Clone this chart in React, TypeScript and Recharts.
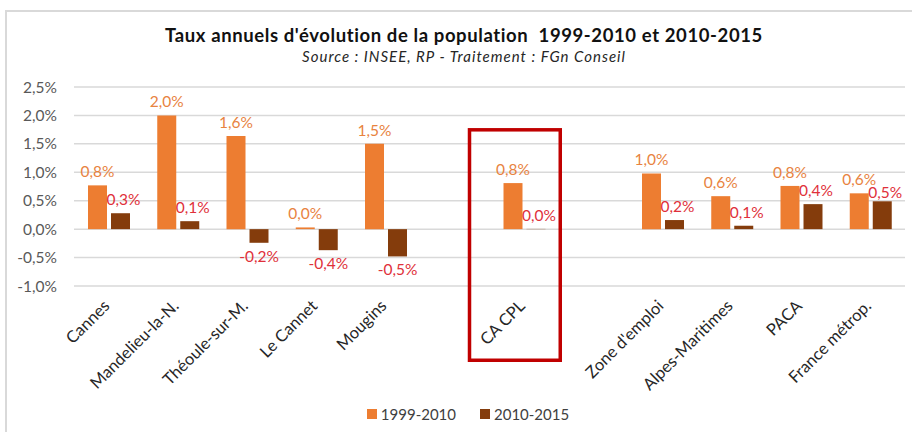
import React from 'react';
import { BarChart, Bar, XAxis, YAxis, CartesianGrid, LabelList, ReferenceArea } from 'recharts';

const categories = [
  'Cannes', 'Mandelieu-la-N.', 'Théoule-sur-M.', 'Le Cannet', 'Mougins', ' ',
  'CA CPL', '  ', "Zone d'emploi", 'Alpes-Maritimes', 'PACA', 'France métrop.',
];
const rate1999_2010 = [0.77, 2.0, 1.64, 0.03, 1.5, null, 0.81, null, 0.98, 0.58, 0.76, 0.63];
const rate2010_2015 = [0.28, 0.14, -0.24, -0.37, -0.48, null, 0.004, null, 0.16, 0.06, 0.44, 0.49];
const yTicks = [-1, -0.5, 0, 0.5, 1, 1.5, 2, 2.5];
const seriesNames = ['1999-2010', '2010-2015'];
const highlighted = 'CA CPL';
const titleText = "Taux annuels d'évolution de la population  1999-2010 et 2010-2015";
const subtitleText = 'Source : INSEE, RP - Traitement : FGn Conseil';

const data = categories.map((name, i) => ({
  name,
  a: rate1999_2010[i],
  b: rate2010_2015[i],
}));

const FONT = 'Lato, "Open Sans", sans-serif';
const ORANGE = '#ED7D31';
const BROWN = '#843C0C';
const RED_LABEL = '#E0303A';

const fmt = (v: any) =>
  v === null || v === undefined ? '' : (Number(v).toFixed(1).replace('.', ',') + '%');

const XTick = (props: any) => {
  const { x, y, payload } = props;
  return (
    <g transform={`translate(${x + 2},${y + 13})`}>
      <text
        x={0}
        y={0}
        textAnchor="end"
        transform="rotate(-45)"
        fill="#262626"
        fontSize={16.5}
        fontFamily={FONT}
      >
        {payload.value}
      </text>
    </g>
  );
};

const DarkLabel = (props: any) => {
  const vb = props.viewBox || props;
  const { x, y, width, height } = vb;
  const value = props.value;
  if (value === null || value === undefined || x === undefined) return null;
  const v = Number(value);
  const top = Math.min(y, y + height);
  const bottom = Math.max(y, y + height);
  const cx = x + width / 2 + (v >= 0 ? 3 : 0);
  if (v >= 0) {
    // nudge down when close to the neighbouring 1999-2010 label (avoids overlap, as in the source)
    const other = data[props.index] ? data[props.index].a : null;
    const close = other !== null && other !== undefined && other - v < 0.2;
    return (
      <text x={cx} y={top - (close ? 3 : 8)} textAnchor="middle" fill={RED_LABEL} fontSize={15.5} fontFamily={FONT}>
        {fmt(v)}
      </text>
    );
  }
  return (
    <text x={cx} y={bottom + 8} dy="0.71em" textAnchor="middle" fill={RED_LABEL} fontSize={15.5} fontFamily={FONT}>
      {fmt(v)}
    </text>
  );
};

const BoxShape = (props: any) => {
  const { x, y, width, height } = props;
  return (
    <rect
      x={x - 20}
      y={y}
      width={width + 21.5}
      height={height}
      fill="none"
      stroke="#C00000"
      strokeWidth={3.5}
    />
  );
};

export default function App() {
  return (
    <div
      style={{
        position: 'absolute',
        left: 0,
        top: 0,
        width: 912,
        height: 432,
        background: '#fff',
        fontFamily: FONT,
        overflow: 'hidden',
      }}
    >
      <div
        style={{
          position: 'absolute',
          left: 5,
          top: 10,
          width: 920,
          height: 440,
          border: '2px solid #d9d9d9',
        }}
      />
      <div
        style={{
          position: 'absolute',
          left: 8,
          top: 25,
          width: 912,
          textAlign: 'center',
          fontSize: 18.5,
          fontWeight: 700,
          letterSpacing: 0.6,
          lineHeight: '20px',
          color: '#111',
          whiteSpace: 'pre',
        }}
      >
        {titleText}
      </div>
      <div
        style={{
          position: 'absolute',
          left: 8,
          top: 47,
          width: 912,
          textAlign: 'center',
          fontSize: 15,
          fontStyle: 'italic',
          letterSpacing: 1,
          lineHeight: '18px',
          color: '#262626',
        }}
      >
        {subtitleText}
      </div>
      <div style={{ position: 'absolute', left: 0, top: 0 }}>
        <BarChart
          width={912}
          height={432}
          data={data}
          margin={{ top: 87, right: 7, bottom: 0, left: 0 }}
          barGap={4}
        >
          <CartesianGrid vertical={false} stroke="#d9d9d9" strokeWidth={1.5} />
          <XAxis
            dataKey="name"
            height={146}
            axisLine={false}
            tickLine={false}
            interval={0}
            tick={<XTick />}
          />
          <YAxis
            width={74}
            domain={[-1, 2.5]}
            ticks={yTicks}
            axisLine={false}
            tickLine={false}
            tickSize={0}
            tickMargin={17}
            tickFormatter={(v: number) => v.toFixed(1).replace('.', ',') + '%'}
            tick={{ fill: '#595959', fontSize: 15.5, fontFamily: FONT }}
          />
          <Bar dataKey="a" name={seriesNames[0]} fill={ORANGE} barSize={19} isAnimationActive={false}>
            <LabelList
              dataKey="a"
              position="top"
              offset={8}
              formatter={fmt}
              fill="#E8833F"
              fontSize={15.5}
              fontFamily={FONT}
            />
          </Bar>
          <Bar dataKey="b" name={seriesNames[1]} fill={BROWN} barSize={19} isAnimationActive={false}>
            <LabelList dataKey="b" content={<DarkLabel />} />
          </Bar>
          <ReferenceArea
            x1={highlighted}
            x2={highlighted}
            y1={-2.306}
            y2={1.747}
            ifOverflow="visible"
            shape={<BoxShape />}
          />
        </BarChart>
      </div>
      <div
        style={{
          position: 'absolute',
          left: 0,
          top: 405,
          width: 936,
          display: 'flex',
          justifyContent: 'center',
          fontSize: 15,
          color: '#404040',
          lineHeight: '18px',
        }}
      >
        {seriesNames.map((s, i) => (
          <div key={s} style={{ display: 'flex', alignItems: 'center', marginRight: i === 0 ? 24 : 0 }}>
            <span
              style={{
                display: 'inline-block',
                width: 10,
                height: 10,
                background: i === 0 ? ORANGE : BROWN,
                marginRight: 4,
              }}
            />
            <span>{s}</span>
          </div>
        ))}
      </div>
    </div>
  );
}
